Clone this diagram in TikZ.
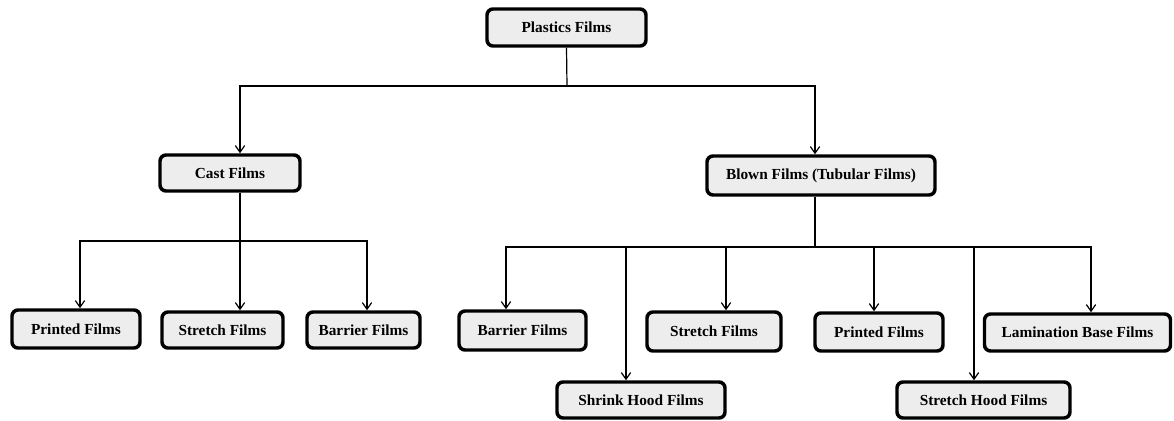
\documentclass[tikz,border=0pt]{standalone}
\usepackage{fontspec}
\setmainfont{Liberation Serif}
\usepackage{tikz}
\usetikzlibrary{arrows.meta}

\tikzset{
    filmbox/.style={draw, line width=2.6pt, rounded corners=4.5pt, fill=black!7,
        font=\bfseries\fontsize{11.5}{13}\selectfont, inner sep=0pt},
    link/.style={line width=0.9pt},
    arr/.style={link, -{Straight Barb[length=5pt, width=7pt]}}
}

\begin{document}
\begin{tikzpicture}[x=0.75pt, y=-0.75pt]
    \useasboundingbox (0,0) rectangle (1174,421);

    % Boxes: name / centre x / centre y / width / height / label
    \foreach \n/\cx/\cy/\w/\h/\txt in {
        plastics/566.5/27.5/159/37/Plastics Films,
        cast/230/173/140/36/Cast Films,
        blown/821/175.5/228/39/Blown Films (Tubular Films),
        cprinted/76/329/128/38/Printed Films,
        cstretch/222.5/330/121/36/Stretch Films,
        cbarrier/363.5/330/113/36/Barrier Films,
        bbarrier/522.5/330.5/127/39/Barrier Films,
        bshrink/641/400/168/36/Shrink Hood Films,
        bstretch/714/331.5/134/39/Stretch Films,
        bprinted/879/332/128/38/Printed Films,
        bhood/983.5/400/173/36/Stretch Hood Films,
        blamin/1077.5/332.5/186/37/Lamination Base Films} {
        \node[filmbox, minimum width=\w*0.75pt, minimum height=\h*0.75pt] (\n) at (\cx,\cy) {\txt};
    }

    % Plastics Films -> Cast / Blown
    \coordinate (topbus) at (567,86);
    \draw[link] (plastics.south) -- (topbus);
    \draw[arr] (topbus) -| (240,0 |- cast.north);
    \draw[arr] (topbus) -| (815,0 |- blown.north);

    % Cast Films branches
    \coordinate (castbus) at (240,241);
    \draw[link] (240,0 |- cast.south) -- (castbus);
    \foreach \n/\x in {cprinted/80, cstretch/240, cbarrier/367}
        \draw[arr] (castbus) -| (\x,0 |- \n.north);

    % Blown Films branches
    \coordinate (blownbus) at (815,247);
    \draw[link] (815,0 |- blown.south) -- (blownbus);
    \foreach \n/\x in {bbarrier/506, bshrink/626, bstretch/726, bprinted/874, bhood/974, blamin/1091}
        \draw[arr] (blownbus) -| (\x,0 |- \n.north);
\end{tikzpicture}
\end{document}
